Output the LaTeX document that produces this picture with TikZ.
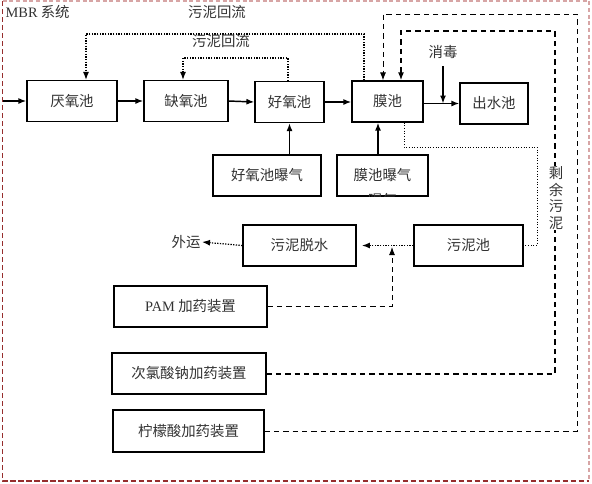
\documentclass[tikz,border=0pt]{standalone}
\usepackage{fontspec}
\setmainfont{Liberation Serif}
\newfontfamily\cjk{Noto Sans CJK SC}
\usetikzlibrary{arrows.meta,calc}
\definecolor{frame}{RGB}{150,45,45}
\definecolor{framelight}{RGB}{215,165,165}
\definecolor{txt}{RGB}{50,50,50}

\begin{document}
\begin{tikzpicture}[x=0.75pt,y=-0.75pt,
	box/.style={draw,line width=0.9pt,inner sep=0pt,minimum height=30.75pt,
		font=\fontsize{10.8}{13}\selectfont\cjk,text=txt},
	lbl/.style={inner sep=1pt,font=\fontsize{10.8}{13}\selectfont\cjk,text=txt},
	arr/.style={-{Latex[length=6pt,width=4.5pt]}},
	flow/.style={arr,line width=1.1pt},
	ret/.style={arr,line width=0.9pt,dash pattern=on 1pt off 1pt},
	rest/.style={line width=0.6pt,dash pattern=on 0.8pt off 1.2pt},
	chem/.style={line width=0.7pt,dash pattern=on 4pt off 3pt}]
	\useasboundingbox (0,0) rectangle (592,483);

	% frame of the system
	\draw[framelight,line width=0.8pt,dash pattern=on 3pt off 2pt] (2.5,1) -- (589,1) -- (589,481);
	\draw[frame,line width=1.3pt,dash pattern=on 4pt off 2pt] (2.5,1) -- (2.5,481) -- (589,481);
	\node[lbl,anchor=west] (mbr) at (4,12) {{\rmfamily MBR} 系统};

	% main line
	\node[box,minimum width=67.5pt] (yang) at (72,101) {厌氧池};
	\node[box,minimum width=63pt] (que) at (186,101) {缺氧池};
	\node[box,minimum width=51.75pt] (hao) at (289.5,102) {好氧池};
	\node[box,minimum width=53.25pt] (mo) at (387.5,101.5) {膜池};
	\node[box,minimum width=51pt] (chu) at (494,103.5) {出水池};
	\node[lbl] (xiaodu) at (443,52) {消毒};

	% aeration
	\node[box,minimum width=81pt] (haoq) at (267,175.5) {好氧池曝气};
	\node[box,minimum width=68.25pt] (moq) at (382.5,175.5) {膜池曝气};
	\begin{scope}
		\clip (moq.south west) rectangle (moq.north east);
		\node[lbl] (moqb) at ($(moq.center)+(0,24.5)$) {曝气};
	\end{scope}

	% sludge
	\node[box,minimum width=84.75pt] (tuo) at (299.5,245.5) {污泥脱水};
	\node[box,minimum width=81.75pt] (nichi) at (468.5,245.5) {污泥池};
	\node[lbl] (waiyun) at (186,242) {外运};

	% dosing
	\node[box,minimum width=114.75pt] (pam) at (190.5,306.5) {{\rmfamily PAM} 加药装置};
	\node[box,minimum width=115.5pt] (ci) at (189,373.5) {次氯酸钠加药装置};
	\node[box,minimum width=113.25pt,minimum height=31.5pt,line width=1.1pt] (ning) at (188.5,431) {柠檬酸加药装置};

	% flow arrows
	\coordinate (in) at (3,101);
	\draw[flow] (in) -- (yang.west);
	\draw[flow] (yang.east) -- (que.west);
	\draw[flow] (que.east) -- (hao.west);
	\draw[flow] (hao.west -| hao.east) -- (mo.west |- hao.west);
	\draw[flow] (mo.east |- chu.west) -- (chu.west);
	\draw[flow] (xiaodu.south) ++(0,6) -- (xiaodu.south |- chu.west);
	\draw[flow] (hao.south |- haoq.north) -- (hao.south);
	\coordinate (ma) at ($(mo.south)+(-9.5,0)$);
	\draw[flow] (ma |- moq.north) -- (ma);

	% sludge return
	\coordinate (r1a) at (364,34);
	\coordinate (r1b) at (86,34);
	\draw[ret] (mo.north -| r1a) -- (r1a) -- (r1b) -- (yang.north -| r1b);
	\coordinate (r2a) at (288,58);
	\coordinate (r2b) at (183,58);
	\draw[ret] (hao.north -| r2a) -- (r2a) -- (r2b) -- (que.north -| r2b);
	\node[lbl] (ret1) at (217,12) {污泥回流};
	\node[lbl] (ret2) at (221,41) {污泥回流};

	% excess sludge
	\coordinate (s1) at (404,147);
	\coordinate (s2) at (537,147);
	\draw[rest] (mo.south -| s1) -- (s1) -- (s2) |- (nichi.east);
	\draw[ret,shorten >=4pt] (nichi.west) -- (tuo.east);
	\draw[ret] (tuo.west) -- (waiyun.east);

	% dosing lines
	\coordinate (p1) at (392,247);
	\draw[chem,arr] (pam.east) -| (p1);
	\coordinate (c1) at (555,31);
	\coordinate (c2) at (401,31);
	\draw[chem,arr,line width=1.5pt] (ci.east) -| (c1) -- (c2) -- (mo.north -| c2);
	\coordinate (n1) at (577,14);
	\coordinate (n2) at (383,14);
	\draw[chem,arr] (ning.east) -| (n1) -- (n2) -- (mo.north -| n2);
	\node[lbl,fill=white,align=center,inner sep=0.5pt,
		font=\fontsize{10.8}{12.5}\selectfont\cjk] (shengyu) at (556,198) {剩\\余\\污\\泥};
\end{tikzpicture}
\end{document}
